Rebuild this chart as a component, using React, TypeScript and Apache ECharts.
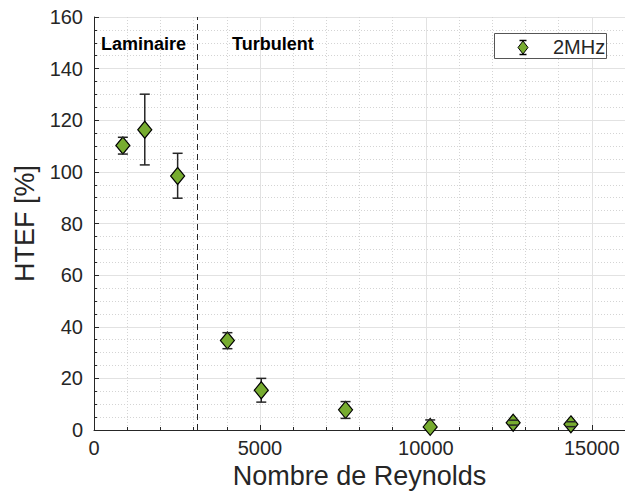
import React, { useEffect, useRef } from "react";
import * as echarts from "echarts";

const reynolds = [870, 1530, 2520, 4020, 5040, 7580, 10130, 12630, 14370];
const htef = [110.2, 116.3, 98.4, 34.7, 15.4, 7.8, 1.2, 2.8, 2.2];
const errLow = [106.9, 102.7, 89.8, 31.5, 10.8, 4.5, -1.5, 1.9, 1.3];
const errHigh = [113.4, 130.1, 107.2, 37.7, 20.0, 11.0, 3.9, 3.8, 3.2];
const seriesName = "2MHz";
const regimeLabels = ["Laminaire", "Turbulent"];
const transitionRe = 3100;

const FONT = "'Liberation Sans', Arial, Helvetica, sans-serif";
const GREEN = "#77AC30";
const DARK = "#262626";

export default function App() {
  const ref = useRef<HTMLDivElement>(null);
  useEffect(() => {
    if (!ref.current) return;
    const chart = echarts.init(ref.current, null, { renderer: "svg" });
    const errData = reynolds.map((x, i) => [x, errLow[i], errHigh[i]]);
    const scatterData = reynolds.map((x, i) => [x, htef[i]]);

    const option: any = {
      animation: false,
      backgroundColor: "#ffffff",
      textStyle: { fontFamily: FONT },
      grid: { left: 94, top: 17, width: 534, height: 413, containLabel: false },
      xAxis: {
        type: "value",
        min: 0,
        max: 16000,
        interval: 5000,
        name: "Nombre de Reynolds",
        nameLocation: "middle",
        nameGap: 31,
        nameTextStyle: { fontSize: 27, color: DARK, fontFamily: FONT },
        axisLine: { show: true, onZero: false, lineStyle: { color: DARK, width: 1 } },
        axisTick: { show: true, inside: true, length: 5, lineStyle: { color: DARK } },
        minorTick: { show: true, splitNumber: 5, length: 3, lineStyle: { color: DARK } },
        axisLabel: { fontSize: 20, color: DARK, margin: 8, fontFamily: FONT, formatter: (v: number) => String(v) },
        splitLine: { show: true, lineStyle: { color: "#e2e2e2", width: 1 } },
        minorSplitLine: { show: true, lineStyle: { color: "#d4d4d4", width: 1, type: [1, 2] } },
      },
      yAxis: {
        type: "value",
        min: 0,
        max: 160,
        interval: 20,
        name: "HTEF [%]",
        nameLocation: "middle",
        nameGap: 52,
        nameTextStyle: { fontSize: 27, color: DARK, fontFamily: FONT },
        axisLine: { show: true, onZero: false, lineStyle: { color: DARK, width: 1 } },
        axisTick: { show: true, inside: true, length: 5, lineStyle: { color: DARK } },
        minorTick: { show: true, splitNumber: 4, length: 3, lineStyle: { color: DARK } },
        axisLabel: { fontSize: 20, color: DARK, margin: 11, fontFamily: FONT },
        splitLine: { show: true, lineStyle: { color: "#e2e2e2", width: 1 } },
        minorSplitLine: { show: true, lineStyle: { color: "#d4d4d4", width: 1, type: [1, 2] } },
      },
      graphic: [
        {
          type: "rect",
          z: 100,
          shape: { x: 494.5, y: 33.5, width: 112, height: 25 },
          style: { fill: "#ffffff", stroke: "#555555", lineWidth: 1 },
        },
        {
          type: "line",
          z: 101,
          shape: { x1: 519.5, y1: 40.5, x2: 526.5, y2: 40.5 },
          style: { stroke: "#000", lineWidth: 1.5 },
        },
        {
          type: "line",
          z: 101,
          shape: { x1: 519.5, y1: 54.5, x2: 526.5, y2: 54.5 },
          style: { stroke: "#000", lineWidth: 1.5 },
        },
        {
          type: "polygon",
          z: 102,
          shape: { points: [[523, 41], [528, 47.5], [523, 54], [518, 47.5]] },
          style: { fill: GREEN, stroke: "#000", lineWidth: 1 },
        },
        {
          type: "text",
          z: 102,
          x: 553,
          y: 47,
          style: { text: seriesName, font: `20px ${FONT}`, fill: DARK, verticalAlign: "middle", align: "left" },
        },
        {
          type: "text",
          left: 101,
          top: 35,
          z: 50,
          style: { text: regimeLabels[0], font: `bold 18px ${FONT}`, fill: "#000" },
        },
        {
          type: "text",
          left: 232,
          top: 35,
          z: 50,
          style: { text: regimeLabels[1], font: `bold 18px ${FONT}`, fill: "#000" },
        },
      ],
      series: [
        {
          name: "errorbars",
          type: "custom",
          z: 2,
          clip: true,
          data: errData,
          encode: { x: 0, y: [1, 2] },
          renderItem: (params: any, api: any) => {
            const x = api.value(0);
            const lo = api.coord([x, api.value(1)]);
            const hi = api.coord([x, api.value(2)]);
            return {
              type: "line",
              shape: { x1: lo[0], y1: lo[1], x2: hi[0], y2: hi[1] },
              style: { stroke: DARK, lineWidth: 1.5 },
            };
          },
        },
        {
          name: seriesName,
          type: "scatter",
          z: 3,
          symbol: "diamond",
          symbolSize: [14, 17],
          itemStyle: { color: GREEN, borderColor: "#000000", borderWidth: 1.2, opacity: 1 },
          data: scatterData,
          markLine: {
            silent: true,
            symbol: ["none", "none"],
            label: { show: false },
            lineStyle: { color: DARK, type: [6, 4], width: 1 },
            data: [{ xAxis: transitionRe }],
          },
        },
        {
          name: "caps",
          type: "custom",
          z: 4,
          clip: true,
          data: errData,
          encode: { x: 0, y: [1, 2] },
          renderItem: (params: any, api: any) => {
            const x = api.value(0);
            const lo = api.coord([x, api.value(1)]);
            const hi = api.coord([x, api.value(2)]);
            const hw = 5;
            return {
              type: "group",
              children: [
                { type: "line", shape: { x1: lo[0] - hw, y1: lo[1], x2: lo[0] + hw, y2: lo[1] }, style: { stroke: DARK, lineWidth: 1.5 } },
                { type: "line", shape: { x1: hi[0] - hw, y1: hi[1], x2: hi[0] + hw, y2: hi[1] }, style: { stroke: DARK, lineWidth: 1.5 } },
              ],
            };
          },
        },
      ],
    };
    chart.setOption(option);
    return () => chart.dispose();
  }, []);

  return (
    <div
      ref={ref}
      style={{ position: "fixed", left: 0, top: 0, width: 625, height: 495, background: "#fff" }}
    />
  );
}
